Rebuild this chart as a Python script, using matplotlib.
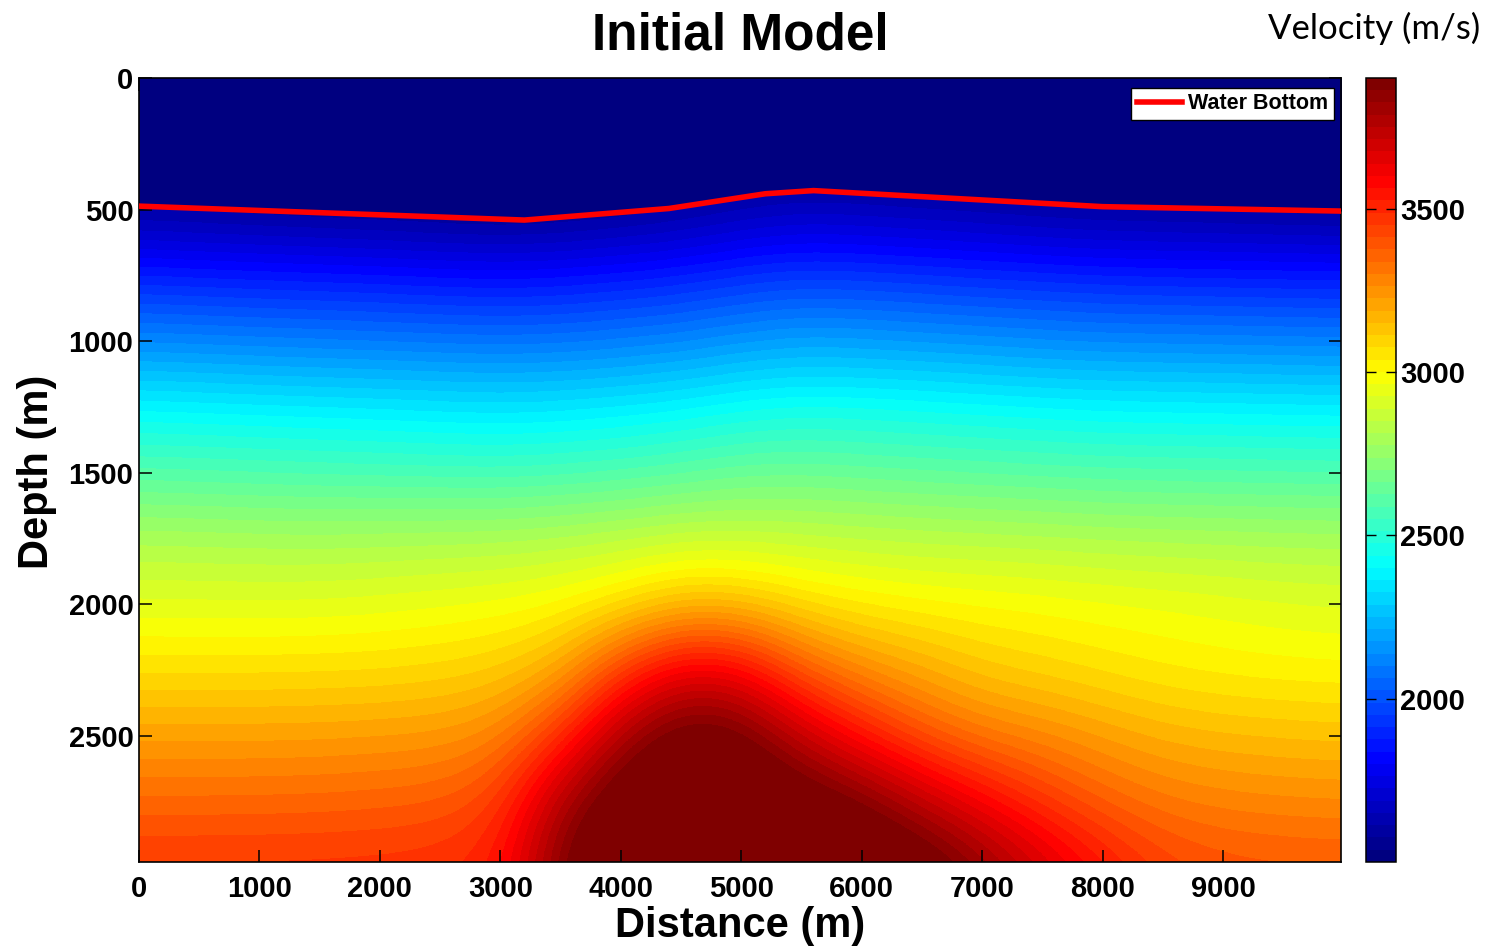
import numpy as np
import matplotlib.pyplot as plt
from matplotlib.colors import Normalize, LinearSegmentedColormap

plt.rcParams['font.family'] = ['Liberation Sans', 'DejaVu Sans']

# model grid (m) and velocities (m/s), rows = depth, columns = distance
distance = np.arange(0, 10001, 500)
depth = np.arange(0, 3001, 250)
velocity = np.array([
    [1500] * 21,
    [1500] * 21,
    [1577, 1566, 1555, 1544, 1534, 1522, 1512, 1522, 1546, 1574, 1620, 1650, 1639, 1622, 1606, 1589, 1574, 1569, 1564, 1557, 1552],
    [1880, 1870, 1860, 1852, 1843, 1833, 1825, 1833, 1853, 1877, 1916, 1940, 1931, 1918, 1904, 1890, 1877, 1873, 1868, 1863, 1858],
    [2129, 2120, 2111, 2103, 2096, 2087, 2080, 2087, 2105, 2127, 2163, 2188, 2179, 2165, 2152, 2138, 2127, 2122, 2118, 2113, 2109],
    [2393, 2385, 2376, 2368, 2360, 2351, 2343, 2351, 2369, 2391, 2426, 2445, 2439, 2428, 2415, 2402, 2391, 2387, 2383, 2378, 2374],
    [2600, 2594, 2587, 2580, 2574, 2567, 2562, 2572, 2590, 2615, 2650, 2655, 2642, 2630, 2620, 2610, 2600, 2596, 2592, 2588, 2585],
    [2808, 2803, 2798, 2795, 2800, 2805, 2810, 2825, 2845, 2870, 2870, 2860, 2850, 2840, 2832, 2825, 2815, 2808, 2805, 2800, 2798],
    [2935, 2933, 2932, 2935, 2945, 2960, 2975, 3000, 3060, 3150, 3140, 3070, 3030, 3010, 3000, 2990, 2975, 2965, 2950, 2935, 2925],
    [3065, 3065, 3065, 3068, 3072, 3085, 3110, 3190, 3450, 3640, 3610, 3380, 3260, 3190, 3120, 3090, 3060, 3035, 3020, 3010, 3005],
    [3215, 3215, 3215, 3218, 3225, 3235, 3280, 3480, 3790, 3960, 3930, 3730, 3550, 3400, 3310, 3270, 3220, 3175, 3155, 3145, 3138],
    [3350, 3350, 3352, 3356, 3365, 3380, 3450, 3780, 3980, 4050, 4030, 3970, 3900, 3740, 3600, 3470, 3370, 3310, 3285, 3272, 3265],
    [3475, 3475, 3476, 3478, 3482, 3490, 3530, 3880, 4080, 4100, 4100, 4090, 4040, 3990, 3850, 3700, 3560, 3450, 3410, 3400, 3395],
])
water_velocity = 1500

# water bottom picks
wb_x = [0, 3200, 4400, 5200, 5600, 8000, 10000]
wb_z = [487, 540, 496, 440, 428, 489, 506]

x_ticks = np.arange(0, 9001, 1000)
z_ticks = np.arange(0, 2501, 500)
cb_ticks = [2000, 2500, 3000, 3500]

# 64-step jet with the classic anchor points
jet64 = LinearSegmentedColormap.from_list('jet64', [
    (0.0, (0, 0, 0.5)), (1 / 8, (0, 0, 1)), (3 / 8, (0, 1, 1)),
    (5 / 8, (1, 1, 0)), (7 / 8, (1, 0, 0)), (1.0, (0.5, 0, 0))], N=64)

W, H = 1491, 947
fig = plt.figure(figsize=(W / 100, H / 100), dpi=100)
ax = fig.add_axes([139 / W, (H - 862) / H, 1202 / W, 784 / H])

norm = Normalize(vmin=1500, vmax=3900)

dx = distance[1] - distance[0]
dz = depth[1] - depth[0]
im = ax.imshow(velocity, cmap=jet64, norm=norm, aspect='auto',
               interpolation='bicubic', interpolation_stage='data',
               extent=[distance[0] - dx / 2, distance[-1] + dx / 2,
                       depth[-1] + dz / 2, depth[0] - dz / 2])

# water column above the sea floor
ax.fill_between(wb_x, 0, wb_z, color=jet64(norm(water_velocity)), lw=0, zorder=2)
ax.plot(wb_x, wb_z, color='red', lw=4, label='Water Bottom', zorder=3)

ax.set_xlim(0, 9980)
ax.set_ylim(2980, 0)
ax.set_xticks(x_ticks)
ax.set_yticks(z_ticks)
ax.tick_params(direction='in', length=9, width=1.1, top=True, right=True,
               labelsize=21)
ax.tick_params(axis='x', pad=9)
ax.tick_params(axis='y', pad=4)
for lab in ax.get_xticklabels() + ax.get_yticklabels():
    lab.set_fontweight('bold')
for sp in ax.spines.values():
    sp.set_linewidth(1.2)

leg = ax.legend(loc='upper right', bbox_to_anchor=(1 - 7 / 1202, 1 - 10 / 784),
                borderaxespad=0, fancybox=False, framealpha=1, edgecolor='black',
                prop={'weight': 'bold', 'size': 15.5}, handlelength=2.1,
                handletextpad=0.3, borderpad=0.25)
leg.get_frame().set_linewidth(1.0)

fig.text(740 / W, 1 - 50 / H, 'Initial Model', ha='center', va='baseline',
         fontsize=37, fontweight='bold')
fig.text(740 / W, 1 - 937 / H, 'Distance (m)', ha='center', va='baseline',
         fontsize=30, fontweight='bold')
fig.text(37 / W, 1 - 472 / H, 'Depth (m)', ha='center', va='center',
         rotation=90, fontsize=30, fontweight='bold')
fig.text(1480 / W, 1 - 39 / H, 'Velocity (m/s)', ha='right', va='baseline',
         fontsize=25, family=['Lato', 'DejaVu Sans'])

cax = fig.add_axes([1366 / W, (H - 862) / H, 30 / W, 784 / H])
cb = fig.colorbar(im, cax=cax, ticks=cb_ticks)
cb.outline.set_linewidth(1.1)
cax.tick_params(direction='in', length=7, width=1, left=True, right=True,
                labelsize=21, pad=3)
for lab in cax.get_yticklabels():
    lab.set_fontweight('bold')

fig.savefig('out.png', dpi=100)
